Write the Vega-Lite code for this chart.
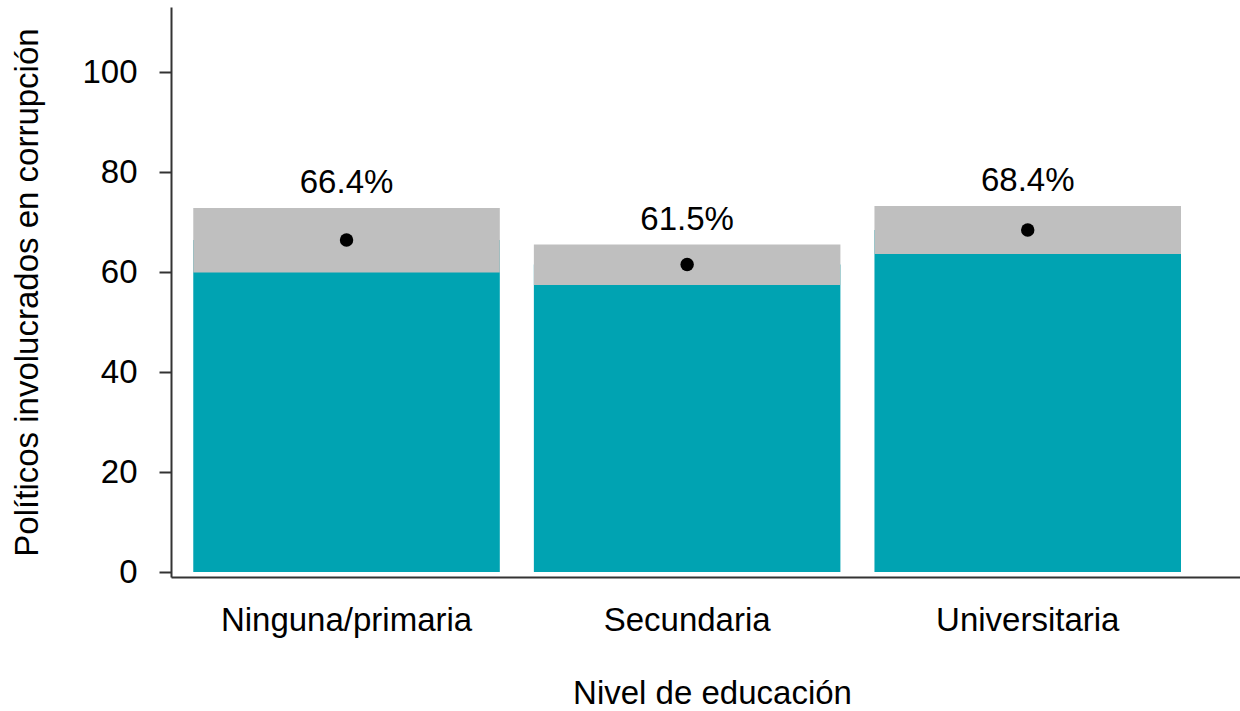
{
  "$schema": "https://vega.github.io/schema/vega-lite/v6.json",
  "autosize": {"type": "none"},
  "padding": {"left": 171, "top": 7, "right": 0, "bottom": 134},
  "width": 1069,
  "height": 570,
  "background": "white",
  "config": {
    "view": {"stroke": null},
    "font": "Liberation Sans",
    "axis": {"grid": false, "labelFont": "Liberation Sans", "titleFont": "Liberation Sans", "labelColor": "#000000", "titleColor": "#000000", "titleFontWeight": "normal", "domainColor": "#333333", "tickColor": "#333333", "labelLimit": 0}
  },
  "data": {
    "values": [
      {"nivel": "Ninguna/primaria", "est": 66.4, "lo": 59.9, "hi": 72.8, "label": "66.4%"},
      {"nivel": "Secundaria", "est": 61.5, "lo": 57.4, "hi": 65.5, "label": "61.5%"},
      {"nivel": "Universitaria", "est": 68.4, "lo": 63.6, "hi": 73.2, "label": "68.4%"}
    ]
  },
  "encoding": {
    "x": {
      "field": "nivel", "type": "nominal", "sort": null,
      "scale": {"paddingInner": 0.1, "paddingOuter": 0.1193, "align": 0.274},
      "axis": {"title": "Nivel de educación", "labelAngle": 0, "ticks": false, "tickSize": 0, "labelPadding": 27, "labelFontSize": 33, "titleFontSize": 33, "titlePadding": 40, "titleX": 541, "domainWidth": 2}
    }
  },
  "layer": [
    {
      "mark": {"type": "bar", "color": "#00A3B2"},
      "encoding": {
        "y": {
          "field": "est", "type": "quantitative",
          "scale": {"domain": [-1, 113], "nice": false, "zero": false},
          "axis": {"title": "Políticos involucrados en corrupción", "values": [0, 20, 40, 60, 80, 100], "tickSize": 12, "labelPadding": 22, "labelFontSize": 33, "titleFontSize": 33, "titlePadding": 37, "domainWidth": 2, "tickWidth": 2}
        },
        "y2": {"datum": 0}
      }
    },
    {
      "mark": {"type": "bar", "color": "#BFBFBF"},
      "encoding": {
        "y": {"field": "lo", "type": "quantitative"},
        "y2": {"field": "hi"}
      }
    },
    {
      "mark": {"type": "point", "filled": true, "color": "#000000", "size": 180, "opacity": 1},
      "encoding": {
        "y": {"field": "est", "type": "quantitative"}
      }
    },
    {
      "mark": {"type": "text", "fontSize": 33, "baseline": "alphabetic", "dy": -15, "color": "#000000", "font": "Liberation Sans"},
      "encoding": {
        "y": {"field": "hi", "type": "quantitative"},
        "text": {"field": "label"}
      }
    }
  ]
}
